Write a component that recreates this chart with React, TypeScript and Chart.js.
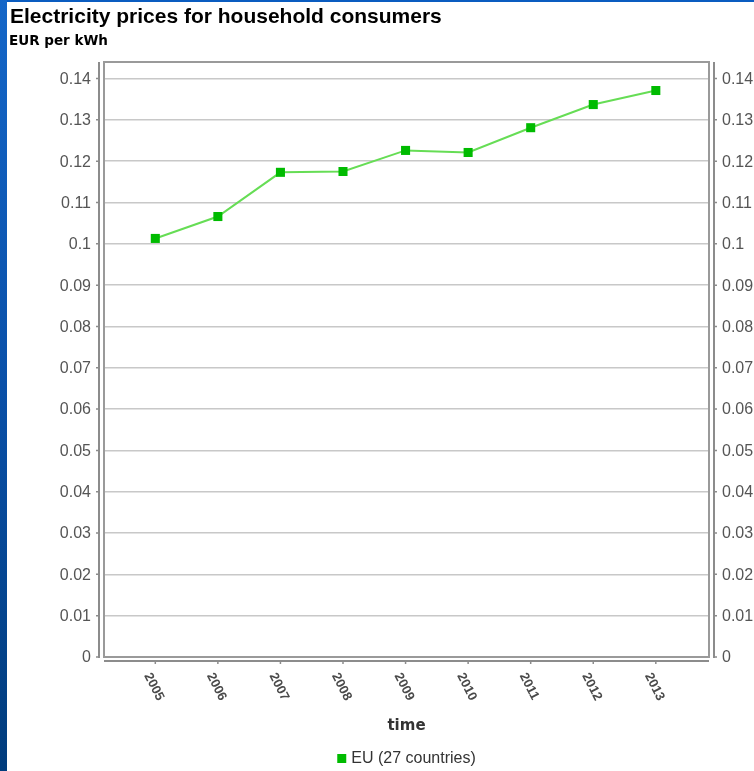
import React, { useEffect, useRef } from "react";
import { Chart, registerables } from "chart.js";

Chart.register(...registerables);

const chartTitle = "Electricity prices for household consumers";
const unitLabel = "EUR per kWh";
const xAxisTitle = "time";
const seriesLabel = "EU (27 countries)";
const years = [2005, 2006, 2007, 2008, 2009, 2010, 2011, 2012, 2013];
const euPrices = [0.1013, 0.1066, 0.1173, 0.1175, 0.1226, 0.1221, 0.1281, 0.1337, 0.1371];
const yTickValues = [0, 0.01, 0.02, 0.03, 0.04, 0.05, 0.06, 0.07, 0.08, 0.09, 0.1, 0.11, 0.12, 0.13, 0.14];

const fmt = (v: number) => String(Number(v.toFixed(2)));

const axesPlugin = {
  id: "customAxes",
  afterDraw(chart: any) {
    const { ctx, chartArea, scales } = chart;
    const { left, right, top, bottom } = chartArea;
    const x = scales.x;
    const y = scales.y;
    ctx.save();
    // plot box
    ctx.strokeStyle = "#9a9a9a";
    ctx.lineWidth = 2;
    ctx.strokeRect(left, top, right - left, bottom - top);

    ctx.strokeStyle = "#8c8c8c";
    ctx.lineWidth = 2;
    // left axis
    const lx = left - 5;
    ctx.beginPath();
    ctx.moveTo(lx, top);
    ctx.lineTo(lx, bottom + 1);
    ctx.stroke();
    // right axis
    const rx = right + 5;
    ctx.beginPath();
    ctx.moveTo(rx, top);
    ctx.lineTo(rx, bottom + 1);
    ctx.stroke();
    // bottom axis
    const by = bottom + 4;
    ctx.beginPath();
    ctx.moveTo(left, by);
    ctx.lineTo(right, by);
    ctx.stroke();

    ctx.lineWidth = 1.5;
    ctx.fillStyle = "#555555";
    ctx.font = "16px 'Liberation Sans', Arial, sans-serif";
    ctx.textBaseline = "middle";
    for (const v of yTickValues) {
      const py = y.getPixelForValue(v);
      ctx.beginPath();
      ctx.moveTo(lx - 3, py);
      ctx.lineTo(lx, py);
      ctx.moveTo(rx, py);
      ctx.lineTo(rx + 3, py);
      ctx.stroke();
      ctx.textAlign = "right";
      ctx.fillText(fmt(v), lx - 8, py + 1);
      ctx.textAlign = "left";
      ctx.fillText(fmt(v), rx + 8, py + 1);
    }

    ctx.fillStyle = "#4a4a4a";
    ctx.font = "bold 13px 'Liberation Sans', Arial, sans-serif";
    for (const yr of years) {
      const px = x.getPixelForValue(yr);
      ctx.beginPath();
      ctx.moveTo(px, by);
      ctx.lineTo(px, by + 3);
      ctx.stroke();
      ctx.save();
      ctx.translate(px - 8, bottom + 17);
      ctx.rotate((63 * Math.PI) / 180);
      ctx.textAlign = "left";
      ctx.textBaseline = "middle";
      ctx.fillText(String(yr), 0, 0);
      ctx.restore();
    }

    const cx = (left + right) / 2;
    ctx.fillStyle = "#333333";
    ctx.font = "bold 15px 'DejaVu Sans', sans-serif";
    ctx.textAlign = "center";
    ctx.textBaseline = "middle";
    ctx.fillText(xAxisTitle, cx, 726);

    ctx.font = "16px 'Liberation Sans', Arial, sans-serif";
    const tw = ctx.measureText(seriesLabel).width;
    const total = 9 + 5 + tw;
    const sx = cx - total / 2;
    ctx.fillStyle = "#00bb00";
    ctx.fillRect(sx, 754, 9, 9);
    ctx.fillStyle = "#333333";
    ctx.textAlign = "left";
    ctx.fillText(seriesLabel, sx + 14, 758.5);
    ctx.restore();
  },
};

export default function App() {
  const canvasRef = useRef<HTMLCanvasElement | null>(null);

  useEffect(() => {
    const canvas = canvasRef.current;
    if (!canvas) return;
    const chart = new Chart(canvas, {
      type: "line",
      data: {
        datasets: [
          {
            label: seriesLabel,
            data: years.map((yr, i) => ({ x: yr, y: euPrices[i] })),
            borderColor: "#66dd55",
            borderWidth: 2,
            backgroundColor: "#00bb00",
            pointStyle: "rect",
            pointRadius: 6.4,
            pointBorderWidth: 0,
            pointBackgroundColor: "#00bb00",
            tension: 0,
          },
        ],
      },
      options: {
        animation: false,
        responsive: false,
        maintainAspectRatio: false,
        layout: { padding: { left: 104, right: 45, top: 62, bottom: 114 } },
        plugins: { legend: { display: false }, title: { display: false }, tooltip: { enabled: false } },
        scales: {
          x: {
            type: "linear",
            min: 2004.18,
            max: 2013.85,
            grid: { display: false, drawTicks: false },
            border: { display: false },
            ticks: { display: false },
            afterFit: (s: any) => {
              s.height = 0;
            },
          },
          y: {
            type: "linear",
            min: 0,
            max: 0.144,
            afterBuildTicks: (s: any) => {
              s.ticks = yTickValues.map((v) => ({ value: v }));
            },
            grid: { color: "#c8c8c8", lineWidth: 1.5, drawTicks: false },
            border: { display: false },
            ticks: { display: false },
            afterFit: (s: any) => {
              s.width = 0;
            },
          },
        },
      },
      plugins: [axesPlugin],
    });
    return () => chart.destroy();
  }, []);

  return (
    <div style={{ position: "absolute", left: 0, top: 0, width: 754, height: 771, background: "#ffffff", overflow: "hidden" }}>
      <div style={{ position: "absolute", left: 0, top: 0, width: 754, height: 2, background: "#0a5cc0" }} />
      <div
        style={{
          position: "absolute",
          left: 0,
          top: 0,
          width: 7,
          height: 771,
          background: "linear-gradient(#1466c8, #0a50a8 50%, #003c7c)",
        }}
      />
      <canvas ref={canvasRef} width={754} height={771} style={{ position: "absolute", left: 0, top: 0, width: 754, height: 771 }} />
      <div
        style={{
          position: "absolute",
          left: 10,
          top: 4,
          font: "bold 21px 'Liberation Sans', Arial, sans-serif",
          color: "#000",
          whiteSpace: "nowrap",
          lineHeight: "24px",
        }}
      >
        {chartTitle}
      </div>
      <div
        style={{
          position: "absolute",
          left: 9,
          top: 32,
          font: "bold 13.5px 'DejaVu Sans', sans-serif",
          color: "#000",
          whiteSpace: "nowrap",
          lineHeight: "16px",
        }}
      >
        {unitLabel}
      </div>
    </div>
  );
}
